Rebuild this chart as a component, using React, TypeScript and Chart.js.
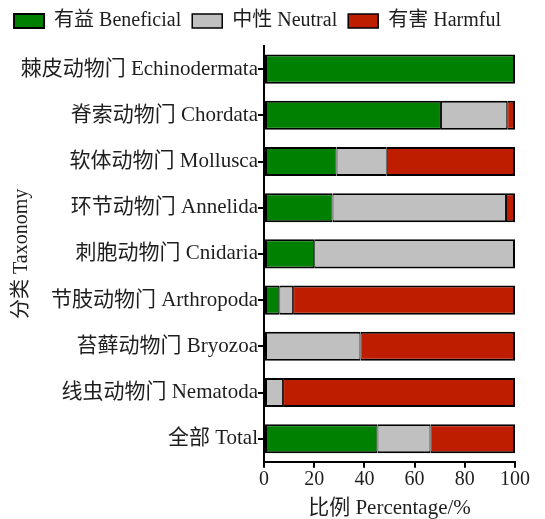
import React, { useEffect, useRef } from "react";
import { Chart, registerables } from "chart.js";

Chart.register(...registerables);

const categories = [
  "棘皮动物门 Echinodermata",
  "脊索动物门 Chordata",
  "软体动物门 Mollusca",
  "环节动物门 Annelida",
  "刺胞动物门 Cnidaria",
  "节肢动物门 Arthropoda",
  "苔藓动物门 Bryozoa",
  "线虫动物门 Nematoda",
  "全部 Total",
];
const beneficial = [100, 70.5, 28.9, 27.3, 20, 6.1, 0, 0, 45.2];
const neutral = [0, 26.4, 20, 69.1, 80, 5.5, 38.4, 7.6, 21.1];
const harmful = [0, 3.1, 51.1, 3.6, 0, 88.4, 61.6, 92.4, 33.7];
const seriesNames = ["有益 Beneficial", "中性 Neutral", "有害 Harmful"];
const xTicks = [0, 20, 40, 60, 80, 100];

const FONT = "'Times New Roman', 'Liberation Serif', 'Noto Sans CJK SC', serif";
const TEXT = "#1e1e1e";

export default function App() {
  const ref = useRef<HTMLCanvasElement | null>(null);
  useEffect(() => {
    if (!ref.current) return;
    const series = [beneficial, neutral, harmful];
    const borderFn = (ctx: any) => {
      if (ctx.type !== "data" || ctx.dataIndex === undefined) return 2;
      const i = ctx.dataIndex;
      const d = ctx.datasetIndex;
      let first = -1;
      let last = -1;
      series.forEach((s, k) => {
        if (s[i] > 0) {
          if (first < 0) first = k;
          last = k;
        }
      });
      return { top: 2, bottom: 2, left: d === first ? 2 : 1, right: d === last ? 2 : 1 };
    };
    const colors = ["#008000", "#C0C0C0", "#BF1D00"];
    const chart = new Chart(ref.current, {
      type: "bar",
      data: {
        labels: categories,
        datasets: series.map((s, k) => ({
          label: seriesNames[k],
          data: s,
          backgroundColor: colors[k],
          borderColor: "#000",
          borderWidth: borderFn as any,
          borderSkipped: false,
          inflateAmount: 0,
          categoryPercentage: 1,
          barPercentage: 0.63,
        })),
      },
      options: {
        indexAxis: "y",
        animation: false,
        responsive: true,
        maintainAspectRatio: false,
        layout: { padding: { left: 0, right: 30, top: 0, bottom: 0 } },
        plugins: {
          legend: {
            position: "top",
            labels: {
              boxWidth: 30,
              boxHeight: 14,
              padding: 11,
              color: TEXT,
              font: { family: FONT, size: 20 },
            },
          },
          tooltip: { enabled: false },
        },
        scales: {
          x: {
            type: "linear",
            stacked: true,
            min: 0,
            max: 100,
            afterBuildTicks: (s: any) => {
              s.ticks = xTicks.map((v) => ({ value: v }));
            },
            ticks: { color: TEXT, padding: 0, font: { family: FONT, size: 20 } },
            grid: { drawOnChartArea: false, drawTicks: true, tickLength: 6, color: "#000", lineWidth: 2 },
            border: { display: true, color: "#000", width: 2 },
            title: {
              display: true,
              text: "比例 Percentage/%",
              color: TEXT,
              padding: { top: 4, bottom: 0 },
              font: { family: FONT, size: 21 },
            },
          },
          x2: {
            type: "linear",
            position: "top",
            display: true,
            grid: { display: false },
            ticks: { display: false },
            border: { display: false },
            afterFit: (s: any) => {
              s.height = 5;
            },
          },
          y: {
            stacked: true,
            afterFit: (s: any) => {
              s.width = 264;
            },
            ticks: { color: TEXT, padding: 0, font: { family: FONT, size: 21 } },
            grid: { offset: false, drawOnChartArea: false, drawTicks: true, tickLength: 6, color: "#000", lineWidth: 2 },
            border: { display: true, color: "#000", width: 2 },
            title: {
              display: true,
              text: "分类 Taxonomy",
              color: TEXT,
              padding: { top: 10, bottom: 0 },
              font: { family: FONT, size: 20 },
            },
          },
        },
      } as any,
    });
    return () => chart.destroy();
  }, []);
  return (
    <div style={{ position: "fixed", left: 0, top: 0, width: 545, height: 519, overflow: "hidden", background: "#fff" }}>
      <div style={{ position: "relative", width: 545, height: 521 }}>
        <canvas ref={ref} />
      </div>
    </div>
  );
}
